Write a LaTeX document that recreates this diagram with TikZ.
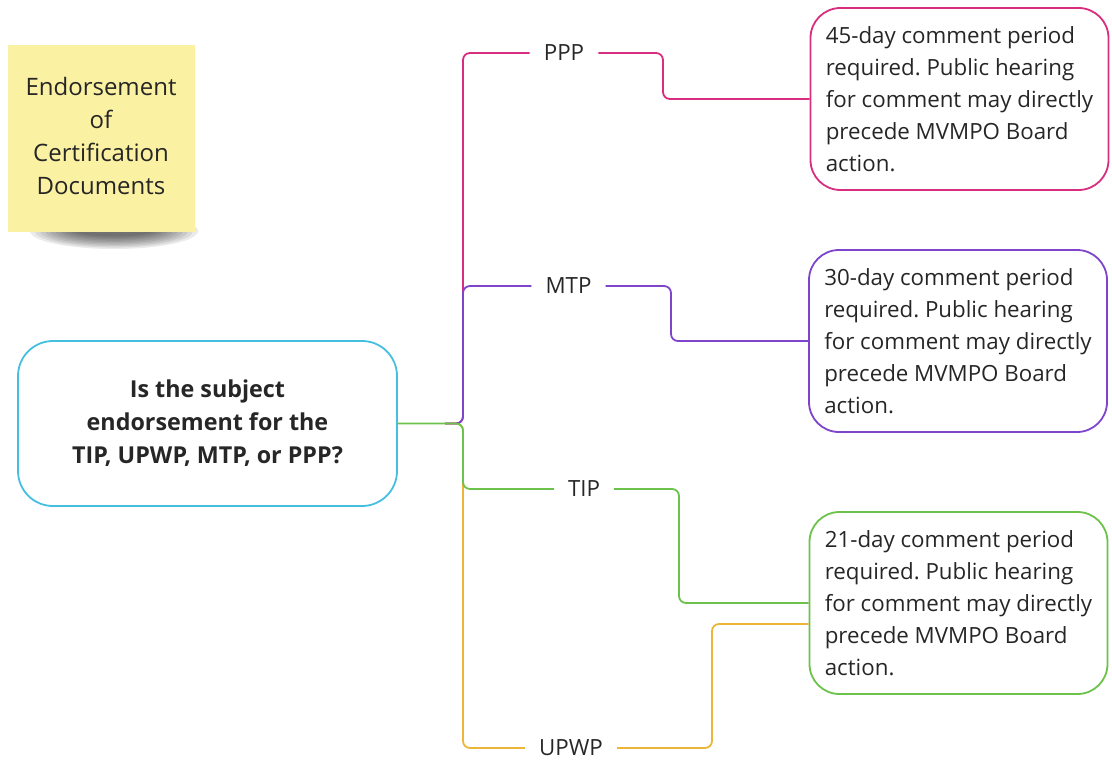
\documentclass[tikz,border=0pt]{standalone}
\usepackage{fontspec}
\setmainfont{Open Sans}
\usetikzlibrary{calc}
\frenchspacing
\definecolor{cpink}{HTML}{D92D7F}
\definecolor{cpurple}{HTML}{7E44CC}
\definecolor{cgreen}{HTML}{6CC24A}
\definecolor{corange}{HTML}{EDB53A}
\definecolor{ccyan}{HTML}{45BFE0}
\definecolor{cnote}{HTML}{FBF1A2}
\definecolor{ctext}{HTML}{262626}
\begin{document}
\begin{tikzpicture}[x=1pt,y=-1pt,
 txt/.style={font=\fontsize{22.3}{32}\selectfont, text=ctext},
 info/.style={txt, draw, line width=1.8pt, rounded corners=30pt, align=left, inner xsep=12pt, minimum height=182pt, minimum width=298pt},
 lbl/.style={txt, inner xsep=14pt, inner ysep=0pt},
 br/.style={line width=1.8pt, rounded corners=7pt}]
\useasboundingbox (0,0) rectangle (1112,760);
% sticky note shadow
\foreach \i in {0,...,9} {
  \fill[black, opacity=0.08] (114,231) ellipse ({84-\i*5} and {18-\i*1.4});
}
\node[fill=cnote, minimum width=187, minimum height=187, inner sep=0pt] (note) at (101.5,138.5) {};
\node[txt, font=\fontsize{24}{33}\selectfont, align=center] (notetext) at (101,135.5) {Endorsement\\of\\Certification\\Documents};
% root
\node[draw=ccyan, line width=1.8pt, rounded corners=35pt, minimum width=379, minimum height=165, txt, font=\fontsize{23.3}{33}\selectfont\bfseries, align=center] (root) at (207.5,423.5) {Is the subject\\endorsement for the\\TIP, UPWP, MTP, or PPP?};
\coordinate (hub) at (445,423.5);
% info boxes
\node[info, draw=cpink] (bppp) at (959.5,99) {45-day comment period\\required. Public hearing\\for comment may directly\\precede MVMPO Board\\action.};
\node[info, draw=cpurple] (bmtp) at (958,341) {30-day comment period\\required. Public hearing\\for comment may directly\\precede MVMPO Board\\action.};
\node[info, draw=cgreen] (btip) at (958.5,603) {21-day comment period\\required. Public hearing\\for comment may directly\\precede MVMPO Board\\action.};
% labels
\node[lbl] (lppp) at (564,53) {PPP};
\node[lbl] (lmtp) at (568.5,286) {MTP};
\node[lbl] (ltip) at (584,489) {TIP};
\node[lbl] (lupwp) at (571,748) {UPWP};
% branches
\draw[br, cpink] (hub) -- (463,423.5) -- (463,53) -- (lppp.west);
\draw[br, cpink] (lppp.east) -- (663,53) -- (663,99) -- (bppp.west);
\draw[br, corange] (hub) -- (463,423.5) -- (463,748) -- (lupwp.west);
\draw[br, corange] (lupwp.east) -- (712,748) -- (712,624) -- ([yshift=-21pt]btip.west);
\draw[br, cpurple] (hub) -- (463,423.5) -- (463,286) -- (lmtp.west);
\draw[br, cpurple] (lmtp.east) -- (671,286) -- (671,341) -- (bmtp.west);
\draw[br, cgreen] (root.east) -- (463,423.5) -- (463,489) -- (ltip.west);
\draw[br, cgreen] (ltip.east) -- (679,489) -- (679,603) -- (btip.west);
\end{tikzpicture}
\end{document}
